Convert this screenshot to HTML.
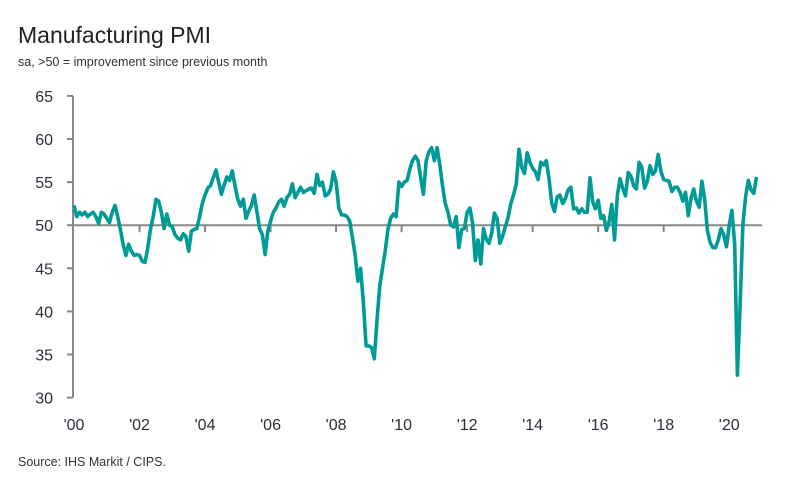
<!DOCTYPE html>
<html><head><meta charset="utf-8"><style>
body{margin:0;background:#fff;font-family:"Liberation Sans",sans-serif}
svg{display:block}
</style></head><body>
<svg id="c" width="788" height="480">
<text x="18" y="43" font-size="23" fill="#222">Manufacturing PMI</text>
<text x="18" y="66" font-size="12.5" fill="#333">sa, &gt;50 = improvement since previous month</text>
<text x="18" y="466" font-size="12.5" fill="#333">Source: IHS Markit / CIPS.</text>
<g id="ax"></g><g id="pl"></g>
</svg>
<script>
const yTicks=[30,35,40,45,50,55,60,65];
const xTickLabels=["'00","'02","'04","'06","'08","'10","'12","'14","'16","'18","'20"];
const pmi=[
52.3,51,51.5,51.2,51.5,51,51.3,51.5,51,50.2,51.5,51.3,
50.8,50.3,51.5,52.3,51,49.5,47.8,46.5,47.8,47,46.5,46.6,
46.5,45.8,45.7,47.3,49.5,51,53,52.8,51.5,49.6,51.3,50,
49.8,48.9,48.5,48.3,49,48.7,47,49.3,49.5,49.6,51,52.5,
53.5,54.3,54.6,55.5,56.4,55,53.6,54.7,55.6,55.2,56.3,54.5,
53,52.2,53,50.8,51.6,52.3,53.5,51.6,49.6,48.9,46.6,49.3,
50.5,51.5,52,52.7,53,52.2,53.2,53.6,54.8,53.2,53.8,54.4,
53.8,54,54.2,54.3,53.7,55.9,54.6,55,53.4,53.6,54.2,56.2,
55,52,51.2,51.2,51,50.5,48.5,46.5,43.5,45,41,36,
36,35.8,34.5,39,43,45,47,49.5,50.8,51.3,51,55,
54.5,55,55.2,56.5,57.5,58,57.5,55.5,53.6,57.5,58.5,59,
57.5,59,57,54.5,52.5,51.5,50,49.8,51,47.4,49.5,49.6,
51.5,52,50.2,45.9,48.3,45.5,49.6,48.4,47.9,49.1,51.4,50.8,
47.9,48.7,49.8,50.9,52.5,53.5,54.8,58.8,56.7,56,58.4,57.3,
56.6,56.2,55.3,57.3,57,57.5,55.4,52.5,51.6,53.3,53.5,52.5,
53.1,54.1,54.4,51.9,52,51.4,51.9,51.5,51.5,55.5,52.7,51.9,
52.9,50.8,51.1,49.4,50.4,52.4,48.3,53.4,55.4,54.3,53.4,56.1,
55.7,54.6,54.2,57.3,56.7,54.3,55.1,56.9,55.9,56.3,58.2,56.2,
55.3,55.2,55.1,53.9,54.4,54.4,53.8,52.8,53.8,51.1,53.1,54.2,
52.8,52.1,55.1,53.1,49.4,48,47.4,47.4,48.3,49.6,48.9,47.5,
50,51.7,47.8,32.6,40.7,50.1,53.3,55.2,54.1,53.7,55.6];
const NS='http://www.w3.org/2000/svg';
const X0=74,XS=2.73;
const y=v=>225.2-(v-50)*8.62;
const x=i=>X0+i*XS;
const ax=document.getElementById('ax'),pl=document.getElementById('pl');
function mk(t,a,p){const e=document.createElementNS(NS,t);for(const k in a)e.setAttribute(k,a[k]);p.appendChild(e);return e;}
let l=mk('line',{x1:X0-1,x2:X0-1,y1:y(65),y2:y(30),stroke:'#888','stroke-width':2},ax);


yTicks.forEach(v=>{
 const t=mk('line',{x1:X0-7,x2:X0-1,y1:y(v),y2:y(v),stroke:'#888','stroke-width':2},ax);
 
 
 const tx=mk('text',{x:53,y:y(v)+6,'font-size':16,fill:'#2a2f3a','text-anchor':'end'},ax);
 tx.textContent=v;
 
 
});
const xl=mk('line',{x1:X0,x2:762,y1:y(50),y2:y(50),stroke:'#888','stroke-width':2},ax);


xTickLabels.forEach((s,k)=>{
 const xx=x(k*24);
 if(k>0){const t=mk('line',{x1:xx,x2:xx,y1:y(50),y2:y(50)+7,stroke:'#888','stroke-width':2},ax);
 
 }
 const tx=mk('text',{x:xx,y:430,'font-size':16,fill:'#2a2f3a','text-anchor':'middle'},ax);
 tx.textContent=s;
 
 
});
const p=mk('polyline',{points:pmi.map((v,i)=>x(i).toFixed(1)+','+y(v).toFixed(1)).join(' '),fill:'none',stroke:'#009a97','stroke-width':3.6,'stroke-linejoin':'round'},pl);


</script>
</body></html>
